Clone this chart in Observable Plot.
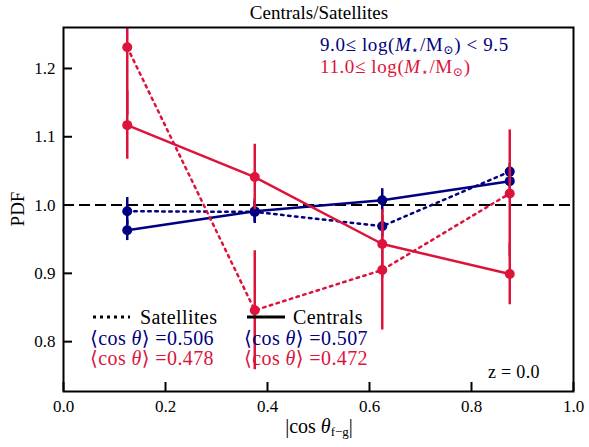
<!DOCTYPE html>
<html><head><meta charset="utf-8">
<script src="https://cdn.jsdelivr.net/npm/d3@7"></script>
<script src="https://cdn.jsdelivr.net/npm/@observablehq/plot@0.6"></script>
<style>
body{margin:0;background:#fff;}
#wrap{position:relative;width:589px;height:447px;font-family:"Liberation Serif","DejaVu Serif","Times New Roman",serif;}
#wrap > svg{position:absolute;left:0;top:0;}
.t{position:absolute;white-space:nowrap;line-height:1;}
sub{font-size:65%;vertical-align:-0.25em;line-height:0;}
.navy{color:#000080}.red{color:#DC143C}
</style></head><body>
<div id="wrap"></div>
<script>
const xBins = [0.125, 0.375, 0.625, 0.875];
const lowSat = [0.991, 0.990, 0.969, 1.049];
const lowSatErr = [0.020, 0.015, 0.015, 0.012];
const lowCen = [0.963, 0.991, 1.007, 1.035];
const lowCenErr = [0.015, 0.018, 0.017, 0.012];
const highSat = [1.231, 0.846, 0.905, 1.017];
const highSatErr = [0.100, 0.087, 0.088, 0.093];
const highCen = [1.117, 1.041, 0.943, 0.899];
const highCenErr = [0.050, 0.048, 0.050, 0.045];
const xTicks = [0, 0.2, 0.4, 0.6, 0.8, 1.0];
const yTicks = [0.8, 0.9, 1.0, 1.1, 1.2];
const xDom = [0, 1], yDom = [0.727, 1.26];
const NAVY = "#000080", RED = "#DC143C";
const DOT = "2.5 4.5";
const FONT = "'Liberation Serif', 'DejaVu Serif', 'Times New Roman', serif";

const W = 589, H = 447, ML = 63, MR = 16, MT = 27, MB = 56, TICK = 9;
const frameW = W - ML - MR, frameH = H - MT - MB;
const tickLenY = TICK * (yDom[1] - yDom[0]) / frameH;
const tickLenX = TICK * (xDom[1] - xDom[0]) / frameW;

const mk = (vals, errs) => xBins.map((x, i) => ({x, y: vals[i], lo: vals[i] - errs[i], hi: vals[i] + errs[i]}));
const series = [
  {d: mk(lowSat, lowSatErr), c: NAVY, dash: DOT},
  {d: mk(lowCen, lowCenErr), c: NAVY, dash: null},
  {d: mk(highSat, highSatErr), c: RED, dash: DOT},
  {d: mk(highCen, highCenErr), c: RED, dash: null}
];

const marks = [Plot.ruleY([1], {stroke: "black", strokeWidth: 2, strokeDasharray: "11 5"})];
for (const s of series) {
  marks.push(Plot.ruleX(s.d, {x: "x", y1: "lo", y2: "hi", stroke: s.c, strokeWidth: 2.5, clip: true}));
  marks.push(Plot.line(s.d, {x: "x", y: "y", stroke: s.c, strokeWidth: 2.5, strokeDasharray: s.dash, clip: true}));
  marks.push(Plot.dot(s.d, {x: "x", y: "y", r: 5, fill: s.c, clip: true}));
}
marks.push(Plot.axisX({ticks: xTicks, tickFormat: d3.format(".1f"), tickSize: 0, tickPadding: 8, fontSize: 17, fontFamily: FONT, label: null}));
marks.push(Plot.axisY({ticks: yTicks, tickFormat: d3.format(".1f"), tickSize: 0, tickPadding: 8, fontSize: 17, fontFamily: FONT, label: null}));
marks.push(Plot.ruleX(xTicks, {x: d => d, y1: yDom[0], y2: yDom[0] + tickLenY, stroke: "black", strokeWidth: 2}));
marks.push(Plot.ruleY(yTicks, {y: d => d, x1: xDom[0], x2: xDom[0] + tickLenX, stroke: "black", strokeWidth: 2}));
marks.push(Plot.frame({stroke: "black", strokeWidth: 2}));

const chart = Plot.plot({
  width: W, height: H,
  marginLeft: ML, marginRight: MR, marginTop: MT, marginBottom: MB,
  x: {domain: xDom},
  y: {domain: yDom},
  style: {fontFamily: FONT, color: "black", background: "white"},
  marks
});
const wrap = document.getElementById("wrap");
wrap.appendChild(chart);

function txt(html, x, y, opts = {}) {
  const el = document.createElement("div");
  el.className = "t" + (opts.cls ? " " + opts.cls : "");
  el.innerHTML = html;
  el.style.left = x + "px"; el.style.top = y + "px";
  el.style.fontSize = (opts.size || 20) + "px";
  if (opts.ls) el.style.letterSpacing = opts.ls + "px";
  el.style.transform = opts.tr || "translate(0,-50%)";
  wrap.appendChild(el);
  return el;
}
function line(x1, x2, y, dash) {
  const ns = "http://www.w3.org/2000/svg";
  const s = document.createElementNS(ns, "svg");
  s.setAttribute("width", x2 - x1); s.setAttribute("height", 6);
  s.style.cssText = `position:absolute;left:${x1}px;top:${y - 3}px;`;
  const l = document.createElementNS(ns, "line");
  l.setAttribute("x1", 0); l.setAttribute("x2", x2 - x1); l.setAttribute("y1", 3); l.setAttribute("y2", 3);
  l.setAttribute("stroke", "black"); l.setAttribute("stroke-width", 3);
  if (dash) l.setAttribute("stroke-dasharray", dash);
  s.appendChild(l);
  wrap.appendChild(s);
}
txt("Centrals/Satellites", 319, 12, {size: 19, tr: "translate(-50%,-50%)"});
txt("PDF", 17, 209, {size: 19, tr: "translate(-50%,-50%) rotate(-90deg)"});
txt("|cos <i>θ</i><sub>f−g</sub>|", 319, 426, {size: 20, tr: "translate(-50%,-50%)"});
txt("9.0≤ log(<i>M</i><sub>⋆</sub>/M<sub>⊙</sub>) &lt; 9.5", 320, 44, {cls: "navy", size: 19, ls: 0.6});
txt("11.0≤ log(<i>M</i><sub>⋆</sub>/M<sub>⊙</sub>)", 320, 66, {cls: "red", size: 19, ls: 0.6});
line(93, 130, 317, "3 4");
txt("Satellites", 140, 317, {ls: 0.4});
line(247, 285, 317, null);
txt("Centrals", 293, 317, {ls: 0.4});
txt("⟨cos <i>θ</i>⟩ =0.506", 90, 338, {cls: "navy", ls: 0.4});
txt("⟨cos <i>θ</i>⟩ =0.478", 90, 358, {cls: "red", ls: 0.4});
txt("⟨cos <i>θ</i>⟩ =0.507", 244, 338, {cls: "navy", ls: 0.4});
txt("⟨cos <i>θ</i>⟩ =0.472", 244, 358, {cls: "red", ls: 0.4});
txt("z = 0.0", 488, 372, {size: 18, ls: 0.3});
</script>
</body></html>
